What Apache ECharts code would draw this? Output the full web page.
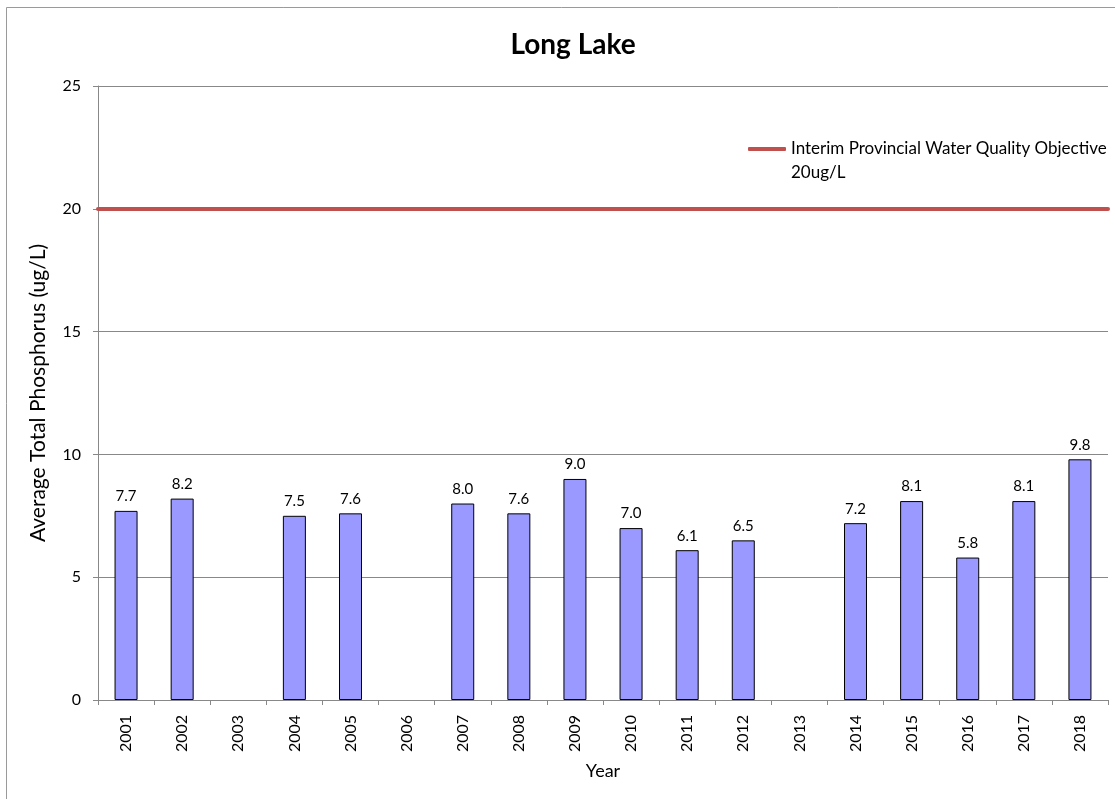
<!DOCTYPE html>
<html>
<head>
<meta charset="utf-8">
<title>Long Lake</title>
<script src="https://cdn.jsdelivr.net/npm/echarts@6/dist/echarts.min.js"></script>
<style>
    html, body { margin: 0; padding: 0; background: #fff; }
    #chart { width: 1115px; height: 799px; }
</style>
</head>
<body>
<div id="chart"></div>
<script>
const years = ['2001', '2002', '2003', '2004', '2005', '2006', '2007', '2008', '2009',
    '2010', '2011', '2012', '2013', '2014', '2015', '2016', '2017', '2018'];
const phosphorus = [7.7, 8.2, null, 7.5, 7.6, null, 8.0, 7.6, 9.0,
    7.0, 6.1, 6.5, null, 7.2, 8.1, 5.8, 8.1, 9.8];
const objective = 20;
const objectiveName = 'Interim Provincial Water Quality Objective\n20ug/L';

const font = 'Lato, "Liberation Sans", sans-serif';
const chart = echarts.init(document.getElementById('chart'));

chart.setOption({
    backgroundColor: '#fff',
    animation: false,
    textStyle: { fontFamily: font },
    title: {
        text: 'Long Lake',
        left: 568,
        top: 26,
        textAlign: 'center',
        textStyle: {
            fontFamily: font,
            fontSize: 28,
            fontWeight: 'bold',
            color: '#000'
        }
    },
    graphic: [{
        type: 'rect',
        shape: { x: 6.5, y: 7.5, width: 1200, height: 900 },
        style: { fill: 'none', stroke: '#9a9a9a', lineWidth: 1 },
        silent: true
    }],
    legend: {
        left: 743,
        top: 108,
        data: [objectiveName],
        icon: 'roundRect',
        itemWidth: 38,
        itemHeight: 4,
        itemGap: 0,
        // blank first line keeps the first text line level with the icon
        formatter: (name) => '\n' + name,
        textStyle: {
            fontFamily: font,
            fontSize: 17,
            color: '#000',
            lineHeight: 24
        }
    },
    grid: {
        left: 98,
        right: 7,
        top: 86,
        bottom: 99
    },
    xAxis: {
        type: 'category',
        data: years,
        name: 'Year',
        nameLocation: 'middle',
        nameGap: 62,
        nameTextStyle: { fontFamily: font, fontSize: 18, color: '#000' },
        axisLine: { lineStyle: { color: '#888', width: 1 } },
        axisTick: { show: true, length: 5, lineStyle: { color: '#888' } },
        axisLabel: {
            rotate: 90,
            margin: 15,
            fontFamily: font,
            fontSize: 16,
            color: '#000',
            interval: 0
        }
    },
    yAxis: {
        type: 'value',
        min: 0,
        max: 25,
        interval: 5,
        name: 'Average Total Phosphorus (ug/L)',
        nameLocation: 'middle',
        nameGap: 49,
        nameTextStyle: { fontFamily: font, fontSize: 21, color: '#000' },
        axisLine: { show: true, lineStyle: { color: '#888', width: 1 } },
        axisTick: { show: true, length: 5, lineStyle: { color: '#888' } },
        axisLabel: {
            margin: 17,
            fontFamily: font,
            fontSize: 16,
            color: '#000'
        },
        splitLine: { lineStyle: { color: '#888', width: 1 } }
    },
    series: [
        {
            name: 'Phosphorus',
            type: 'bar',
            data: phosphorus,
            barWidth: 23,
            itemStyle: {
                color: '#9999ff',
                borderColor: '#000',
                borderWidth: 1
            },
            label: {
                show: true,
                position: 'top',
                distance: 7,
                fontFamily: font,
                fontSize: 15,
                color: '#000',
                formatter: (p) => p.value == null ? '' : p.value.toFixed(1)
            }
        },
        {
            name: objectiveName,
            type: 'line',
            data: [],
            symbol: 'none',
            color: '#c0504d',
            lineStyle: { color: '#c0504d', width: 4 },
            markLine: {
                silent: true,
                symbol: 'none',
                label: { show: false },
                lineStyle: { color: '#c0504d', width: 4, type: 'solid', cap: 'round' },
                data: [{ yAxis: objective }]
            }
        }
    ]
});
</script>
</body>
</html>
